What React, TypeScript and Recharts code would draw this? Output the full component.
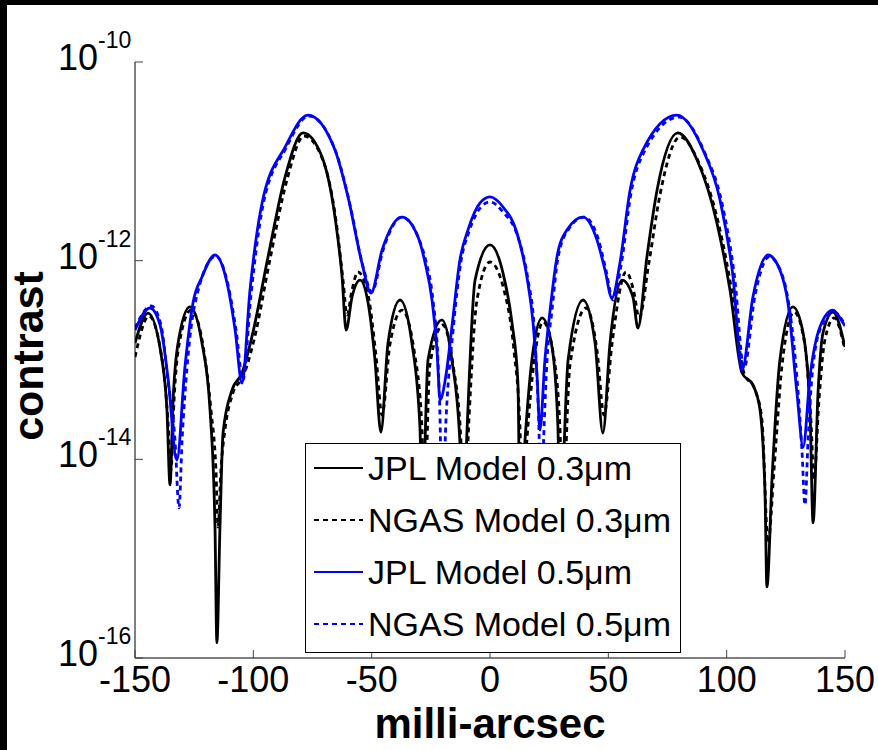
import { LineChart, Line, XAxis, YAxis } from "recharts";

// contrast vs. angular offset (milli-arcsec)
const X_TICKS = [-150, -100, -50, 0, 50, 100, 150];
const Y_TICKS = [1e-16, 1e-14, 1e-12, 1e-10];

const JPL_03: [number, number][] = [
  [-150, 1.48e-13], [-144.5, 2.97e-13], [-138.6, 1.0e-13], [-136.5, 3.14e-14], [-135.2, 5.52e-15],
  [-133.9, 3.95e-14], [-131.8, 1.48e-13], [-126.8, 3.42e-13], [-121.7, 1.48e-13], [-118.3, 3.14e-14],
  [-116.2, 2.08e-15], [-115.4, 1.42e-16], [-114.1, 2.08e-15], [-112.8, 1.84e-14], [-109.0, 4.99e-14],
  [-104.8, 7.4e-14], [-100.6, 1.71e-13], [-93.8, 1.09e-12], [-86.6, 6.95e-12], [-79.0, 1.93e-11],
  [-71.0, 1.11e-11], [-65.5, 2.75e-12], [-62.5, 6.85e-13], [-60.8, 2.0e-13], [-58.3, 4.31e-13],
  [-54.9, 6.38e-13], [-51.5, 3.75e-13], [-48.6, 1.0e-13], [-46.1, 1.88e-14], [-43.1, 1.48e-13],
  [-38.0, 4.02e-13], [-33.0, 1.48e-13], [-29.6, 2.11e-14], [-28.7, 2.45e-15], [-26.2, 1.0e-13],
  [-20.3, 2.53e-13], [-16.1, 1.0e-13], [-12.7, 1.46e-14], [-11.4, 1.95e-15], [-9.7, 1.97e-14],
  [-6.3, 6.4e-13], [0, 1.44e-12], [5.5, 7.51e-13], [9.3, 2.36e-13], [11.8, 5.86e-14],
  [12.7, 2.45e-15], [14.8, 1.57e-14], [17.7, 1.0e-13], [22.0, 2.65e-13], [26.2, 1.35e-13],
  [28.7, 2.11e-14], [29.6, 2.45e-15], [33.0, 1.0e-13], [39.3, 4.02e-13], [44.4, 1.48e-13],
  [47.7, 1.84e-14], [50.7, 1.48e-13], [55.8, 6.38e-13], [60.4, 4.31e-13], [62.5, 2.1e-13],
  [66.3, 1.09e-12], [70.6, 5.14e-12], [79.4, 1.93e-11], [87.5, 1.03e-11], [95.9, 2.39e-12],
  [101.4, 5.07e-13], [106.5, 7.4e-14], [111.1, 5.6e-14], [114.1, 3.14e-14], [116.2, 4.58e-15],
  [117.0, 5.19e-16], [119.2, 6.64e-15], [122.5, 1.0e-13], [128.0, 3.42e-13], [132.3, 1.87e-13],
  [135.2, 3.14e-14], [136.5, 2.29e-15], [138.6, 4.66e-14], [140.7, 1.87e-13], [144.9, 3.04e-13],
  [150, 1.35e-13],
];

const NGAS_03: [number, number][] = [
  [-150, 1.07e-13], [-144.1, 2.77e-13], [-138.2, 8.9e-14], [-136.1, 2.49e-14], [-134.8, 7.81e-15],
  [-133.5, 3.95e-14], [-131.4, 1.42e-13], [-126.3, 3.18e-13], [-121.3, 1.42e-13], [-117.9, 3.14e-14],
  [-115.8, 7.81e-15], [-114.9, 2.08e-15], [-113.7, 7.81e-15], [-112.0, 1.97e-14], [-108.6, 4.66e-14],
  [-104.4, 6.75e-14], [-99.7, 1.59e-13], [-93.0, 1.02e-12], [-85.8, 6.49e-12], [-78.6, 1.8e-11],
  [-70.6, 1.03e-11], [-65.1, 2.56e-12], [-62.1, 6.38e-13], [-60.4, 2.84e-13], [-58.3, 5.07e-13],
  [-55.8, 7.69e-13], [-51.5, 4.51e-13], [-48.2, 1.12e-13], [-45.6, 2.79e-14], [-42.3, 1.42e-13],
  [-37.2, 3.18e-13], [-32.1, 1.26e-13], [-28.7, 1.97e-14], [-27.9, 2.45e-15], [-25.4, 8.9e-14],
  [-19.9, 2.25e-13], [-15.6, 8.9e-14], [-12.3, 1.57e-14], [-11.0, 1.95e-15], [-8.9, 2.49e-14],
  [-5.5, 4.02e-13], [0, 9.7e-13], [5.9, 5.07e-13], [10.1, 1.26e-13], [12.7, 1.97e-14],
  [13.5, 2.45e-15], [15.6, 1.57e-14], [18.6, 9.5e-14], [22.4, 2.42e-13], [26.6, 1.21e-13],
  [29.6, 1.97e-14], [30.4, 2.45e-15], [33.8, 8.9e-14], [40.6, 3.34e-13], [45.2, 1.26e-13],
  [48.2, 2.79e-14], [51.5, 1.42e-13], [57.5, 7.69e-13], [60.8, 4.84e-13], [63.0, 2.65e-13],
  [67.2, 9.7e-13], [71.8, 4.58e-12], [80.3, 1.76e-11], [88.3, 9.62e-12], [96.8, 2.23e-12],
  [102.3, 4.72e-13], [107.3, 7.4e-14], [112.0, 4.99e-14], [114.9, 2.49e-14], [117.5, 1.44e-15],
  [120.0, 7.81e-15], [123.4, 8.9e-14], [128.5, 3.04e-13], [132.7, 1.59e-13], [135.6, 2.49e-14],
  [136.9, 6.19e-15], [139.0, 3.95e-14], [141.5, 1.59e-13], [145.4, 2.65e-13], [150, 1.26e-13],
];

const JPL_05: [number, number][] = [
  [-150, 2.0e-13], [-143.7, 3.34e-13], [-139.4, 2.25e-13], [-136.1, 6.75e-14], [-132.3, 9.84e-15],
  [-128.9, 8.5e-14], [-125.5, 3.75e-13], [-121.7, 6.85e-13], [-116.2, 1.14e-12], [-111.1, 5.96e-13],
  [-107.7, 2.0e-13], [-104.8, 5.86e-14], [-101.4, 5.07e-13], [-96.3, 3.81e-12], [-86.6, 1.39e-11],
  [-76.9, 2.92e-11], [-65.5, 1.3e-11], [-60.0, 4.38e-12], [-54.1, 9.46e-13], [-50.3, 4.72e-13],
  [-45.6, 1.28e-12], [-37.2, 2.75e-12], [-30.4, 1.73e-12], [-27.5, 9.7e-13], [-24.5, 4.02e-13],
  [-22.4, 1.26e-13], [-21.1, 3.95e-14], [-18.6, 7.06e-14], [-16.1, 2.15e-13], [-12.7, 1.02e-12],
  [-9.3, 2.04e-12], [-4.2, 3.81e-12], [0, 4.38e-12], [5.5, 3.47e-12], [11.4, 1.9e-12],
  [15.6, 6.85e-13], [18.2, 2.36e-13], [19.9, 6.75e-14], [21.1, 1.97e-14], [23.2, 1.0e-13],
  [25.4, 3.18e-13], [28.3, 1.09e-12], [32.5, 2.04e-12], [39.3, 2.75e-12], [45.2, 1.62e-12],
  [48.6, 8.05e-13], [51.5, 4.21e-13], [54.9, 9.46e-13], [59.2, 5.14e-12], [64.6, 1.3e-11],
  [79.0, 2.92e-11], [90.0, 1.3e-11], [97.2, 4.08e-12], [102.7, 6.85e-13], [106.5, 7.93e-14],
  [111.1, 4.31e-13], [117.5, 1.14e-12], [122.5, 8.05e-13], [125.9, 3.75e-13], [129.7, 4.66e-14],
  [132.3, 1.33e-14], [135.2, 6.75e-14], [139.4, 2.15e-13], [144.9, 3.18e-13], [149.2, 2.36e-13],
  [150, 2.2e-13],
];

const NGAS_05: [number, number][] = [
  [-150, 2.1e-13], [-143.2, 3.5e-13], [-139.0, 2.25e-13], [-136.1, 6.3e-14], [-133.1, 1.57e-14],
  [-131.4, 3.24e-15], [-130.1, 1.57e-14], [-128.0, 8.5e-14], [-124.6, 3.75e-13], [-115.8, 1.11e-12],
  [-110.7, 5.7e-13], [-107.3, 2.0e-13], [-104.4, 6.3e-14], [-101.0, 4.51e-13], [-95.9, 3.63e-12],
  [-86.2, 1.36e-11], [-76.5, 2.86e-11], [-65.1, 1.24e-11], [-59.6, 4.08e-12], [-53.7, 8.83e-13],
  [-49.9, 4.84e-13], [-45.2, 1.28e-12], [-37.2, 2.75e-12], [-30.4, 1.73e-12], [-27.0, 9.7e-13],
  [-24.1, 4.02e-13], [-22.0, 1.0e-13], [-21.1, 2.49e-14], [-20.3, 2.45e-15], [-18.6, 2.49e-14],
  [-15.6, 2.0e-13], [-12.3, 9.7e-13], [-8.9, 1.95e-12], [-3.8, 3.47e-12], [0, 3.9e-12],
  [5.5, 3.09e-12], [11.8, 1.73e-12], [16.1, 6.38e-13], [18.6, 2.25e-13], [19.9, 6.3e-14],
  [20.7, 1.97e-14], [21.5, 2.45e-15], [22.8, 1.97e-14], [24.1, 1.0e-13], [26.2, 3.18e-13],
  [28.7, 1.06e-12], [33.0, 2.04e-12], [39.7, 2.75e-12], [45.6, 1.69e-12], [49.0, 8.05e-13],
  [52.0, 4.02e-13], [55.4, 9.04e-13], [59.6, 4.8e-12], [65.1, 1.24e-11], [79.9, 2.79e-11],
  [90.8, 1.21e-11], [98.0, 3.81e-12], [103.5, 6.38e-13], [107.3, 8.3e-14], [112.0, 4.51e-13],
  [117.9, 1.09e-12], [123.0, 7.69e-13], [126.3, 3.58e-13], [130.1, 4.99e-14], [131.8, 1.24e-14],
  [133.1, 3.47e-15], [134.4, 1.57e-14], [136.1, 7.06e-14], [139.9, 2.15e-13], [145.4, 3.04e-13],
  [150, 2.25e-13],
];

const SERIES = [
  { name: "JPL Model 0.3μm", pts: JPL_03, color: "#000000", dash: undefined },
  { name: "NGAS Model 0.3μm", pts: NGAS_03, color: "#000000", dash: "5 4" },
  { name: "JPL Model 0.5μm", pts: JPL_05, color: "#0000ff", dash: undefined },
  { name: "NGAS Model 0.5μm", pts: NGAS_05, color: "#0000ff", dash: "5 4" },
];

const FONT = "'Liberation Sans', Arial, Helvetica, sans-serif";
const TICK = 8;

const toRows = (pts: [number, number][]) => pts.map(([x, v]) => ({ x, v }));

function BottomTick({ x, y, payload }: any) {
  return (
    <g>
      <line x1={x} x2={x} y1={y} y2={y - TICK} stroke="#444" />
      <text x={x} y={y + 34} textAnchor="middle" fontSize={36} fontFamily={FONT} fill="#000">
        {payload.value}
      </text>
    </g>
  );
}

function TopTick({ x, y }: any) {
  return <line x1={x} x2={x} y1={y} y2={y + TICK} stroke="#444" />;
}

function LeftTick({ x, y, payload }: any) {
  const exp = Math.round(Math.log10(payload.value));
  return (
    <g>
      <line x1={x} x2={x + TICK} y1={y} y2={y} stroke="#444" />
      <text x={x - 37} y={y + 8} textAnchor="end" fontSize={36} fontFamily={FONT} fill="#000">10</text>
      <text x={x - 37} y={y - 14} textAnchor="start" fontSize={23} fontFamily={FONT} fill="#000">{exp}</text>
    </g>
  );
}

function RightTick({ x, y }: any) {
  return <line x1={x} x2={x - TICK} y1={y} y2={y} stroke="#444" />;
}

function XLabel({ viewBox }: any) {
  const { x, y, width } = viewBox;
  return (
    <text x={x + width / 2} y={y + 80} textAnchor="middle" fontSize={42} fontWeight="bold" fontFamily={FONT} fill="#000">
      milli-arcsec
    </text>
  );
}

function YLabel({ viewBox }: any) {
  const { y, height } = viewBox;
  const cx = 43;
  const cy = y + height / 2 - 4;
  return (
    <text x={cx} y={cy} transform={`rotate(-90, ${cx}, ${cy})`} textAnchor="middle" fontSize={43}
      fontWeight="bold" fontFamily={FONT} fill="#000">
      contrast
    </text>
  );
}

function LegendBox() {
  return (
    <div style={{
      position: "absolute", left: 305, top: 443, width: 374, height: 208,
      border: "1px solid #000", background: "#fff", fontFamily: FONT,
    }}>
      {SERIES.map((s, i) => (
        <div key={s.name} style={{ position: "absolute", left: 0, top: 24 + 52 * i - 20, height: 40, display: "flex", alignItems: "center" }}>
          <svg width={62} height={40} style={{ display: "block" }}>
            <line x1={8} x2={57} y1={20} y2={20} stroke={s.color} strokeWidth={2} strokeDasharray={s.dash} />
          </svg>
          <span style={{ fontSize: 34, lineHeight: "40px", color: "#000", whiteSpace: "nowrap" }}>{s.name}</span>
        </div>
      ))}
    </div>
  );
}

export default function App() {
  return (
    <div style={{ position: "absolute", left: 0, top: 0, width: 878, height: 750, background: "#fff", overflow: "hidden" }}>
      <div style={{ position: "absolute", left: 0, top: 0, width: 878, height: 5, background: "#000" }} />
      <div style={{ position: "absolute", left: 0, top: 0, width: 7, height: 750, background: "#000" }} />
      <LineChart width={878} height={750} margin={{ top: 62, right: 33, bottom: 0, left: 0 }}>
        <XAxis dataKey="x" type="number" domain={[-150, 150]} ticks={X_TICKS} allowDataOverflow
          height={92} tickSize={0} tickMargin={0} tickLine={false} tick={<BottomTick />}
          axisLine={{ stroke: "#000" }} label={<XLabel />} />
        <XAxis xAxisId="top" orientation="top" dataKey="x" type="number" domain={[-150, 150]} ticks={X_TICKS}
          allowDataOverflow height={0} tickSize={0} tickMargin={0} tickLine={false} tick={<TopTick />}
          axisLine={{ stroke: "#000" }} />
        <YAxis type="number" scale="log" domain={[1e-16, 1e-10]} ticks={Y_TICKS} allowDataOverflow
          width={135} tickSize={0} tickMargin={0} tickLine={false} tick={<LeftTick />}
          axisLine={{ stroke: "#000" }} label={<YLabel />} />
        <YAxis yAxisId="right" orientation="right" type="number" scale="log" domain={[1e-16, 1e-10]}
          ticks={Y_TICKS} allowDataOverflow width={0} tickSize={0} tickMargin={0} tickLine={false}
          tick={<RightTick />} axisLine={{ stroke: "#000" }} />
        {SERIES.map((s) => (
          <Line key={s.name} data={toRows(s.pts)} dataKey="v" name={s.name} type="monotone"
            stroke={s.color} strokeWidth={2.8} strokeDasharray={s.dash} dot={false} activeDot={false}
            isAnimationActive={false} />
        ))}
      </LineChart>
      <LegendBox />
    </div>
  );
}
